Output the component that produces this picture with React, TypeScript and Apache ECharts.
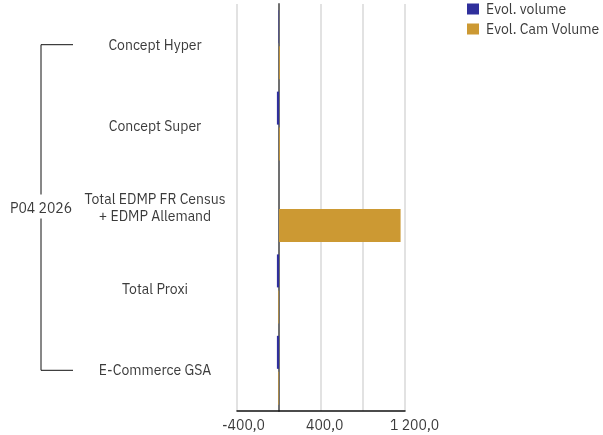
import React, { useEffect, useRef } from "react";
import * as echarts from "echarts";

const categories = [
  "Concept Hyper",
  "Concept Super",
  "Total EDMP FR Census\n+ EDMP Allemand",
  "Total Proxi",
  "E-Commerce GSA",
];
const evolVolume = [-4, -20, 0, -20, -20];
const evolCamVolume = [8, 8, 1158, -6, -6];
const groupLabel = "P04 2026";
const seriesNames = ["Evol. volume", "Evol. Cam Volume"];

const FONT = "'IBM Plex Sans', 'Noto Sans', sans-serif";
const TXT = "#3b3b3b";
const FS = 14;

function fmt(v: number): string {
  const s = Math.abs(v).toFixed(1).split(".");
  const int = s[0].replace(/\B(?=(\d{3})+(?!\d))/g, " ");
  return (v < 0 ? "-" : "") + int + "," + s[1];
}

export default function App() {
  const ref = useRef<HTMLDivElement>(null);
  useEffect(() => {
    if (!ref.current) return;
    const chart = echarts.init(ref.current, undefined, { renderer: "svg" });
    chart.setOption({
      animation: false,
      textStyle: { fontFamily: FONT },
      legend: {
        orient: "vertical",
        left: 467,
        top: 2,
        padding: 0,
        itemWidth: 12,
        itemHeight: 11,
        itemGap: 6,
        icon: "rect",
        data: seriesNames,
        textStyle: {
          color: TXT,
          fontSize: FS,
          fontFamily: FONT,
          lineHeight: 12,
          padding: [0, 0, 0, 2],
        },
      },
      grid: { left: 237, right: 198, top: 4, bottom: 24, containLabel: false },
      xAxis: {
        type: "value",
        min: -400,
        max: 1200,
        interval: 400,
        axisLine: { show: true, onZero: false, lineStyle: { color: "#111", width: 1.5 } },
        axisTick: { show: false },
        splitLine: { show: true, lineStyle: { color: "#d9d9d9", width: 1.5 } },
        axisLabel: {
          color: TXT,
          fontSize: FS,
          fontFamily: FONT,
          margin: 7,
          align: "left",
          padding: [0, 0, 0, -15],
          formatter: (v: number) => (v === 0 || v === 800 ? "" : fmt(v)),
        },
      },
      yAxis: {
        type: "category",
        inverse: true,
        data: categories,
        axisLine: { show: true, lineStyle: { color: "#707070", width: 2 } },
        axisTick: { show: false },
        axisLabel: {
          color: TXT,
          fontSize: FS,
          fontFamily: FONT,
          align: "center",
          margin: 82,
          lineHeight: 17,
        },
      },
      series: [
        {
          name: seriesNames[0],
          type: "bar",
          data: evolVolume,
          barWidth: 33,
          barGap: "9%",
          itemStyle: { color: "#2f2f9c" },
        },
        {
          name: seriesNames[1],
          type: "bar",
          data: evolCamVolume,
          barWidth: 33,
          barGap: "9%",
          itemStyle: { color: "#cc9933" },
        },
      ],
    });
    const yTop = chart.convertToPixel({ yAxisIndex: 0 }, categories[0]) as number;
    const yBot = chart.convertToPixel({ yAxisIndex: 0 }, categories[categories.length - 1]) as number;
    const mid = (yTop + yBot) / 2;
    const bx = 41;
    const stroke = { stroke: "#111", lineWidth: 1 };
    chart.setOption({
      graphic: [
        { type: "line", shape: { x1: bx, y1: yTop, x2: 73, y2: yTop }, style: stroke },
        { type: "line", shape: { x1: bx, y1: yBot, x2: 73, y2: yBot }, style: stroke },
        { type: "line", shape: { x1: bx, y1: yTop, x2: bx, y2: mid - 13 }, style: stroke },
        { type: "line", shape: { x1: bx, y1: mid + 11, x2: bx, y2: yBot }, style: stroke },
        {
          type: "text",
          x: bx,
          y: mid,
          style: {
            text: groupLabel,
            fill: TXT,
            font: `${FS}px ${FONT}`,
            align: "center",
            verticalAlign: "middle",
          },
        },
      ],
    });
    return () => chart.dispose();
  }, []);
  return (
    <div
      ref={ref}
      style={{ position: "fixed", left: 0, top: 0, width: 603, height: 435 }}
    />
  );
}
